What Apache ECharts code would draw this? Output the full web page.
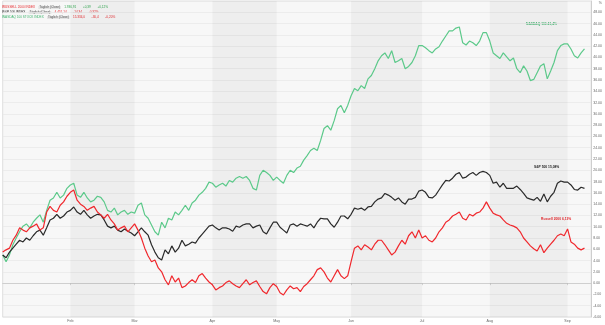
<!DOCTYPE html>
<html><head><meta charset="utf-8">
<script src="https://cdn.jsdelivr.net/npm/echarts@6/dist/echarts.min.js"></script>
<style>html,body{margin:0;padding:0;background:#fff}#c{width:605px;height:325px}</style>
</head><body><div id="c"></div>
<script>
// Trading calendar 2023 (weekdays minus US market holidays)
const startDate = '2023-01-03';
const endDate = '2023-09-13';
const holidays = ['2023-01-16','2023-02-20','2023-04-07','2023-05-29','2023-06-19','2023-07-04','2023-09-04'];
const monthNames = ['Jan','Feb','Mar','Apr','May','Jun','Jul','Aug','Sep','Oct','Nov','Dec'];
const bandStarts = ['2023-02-01','2023-04-03','2023-06-01','2023-08-01'];
const bandEnds   = ['2023-03-01','2023-05-01','2023-07-03','2023-09-01'];
const yTicks = {min:-6, max:50, interval:2};

// Nasdaq 100 (green), % performance
const nasdaq = [
5.0,3.8,5.0,6.8,8.0,9.1,10.1,10.5,9.8,10.8,11.5,12.1,10.8,12.9,14.7,15.1,16.1,15.1,15.6,16.8,
17.4,17.7,15.6,15.2,16.1,15.1,14.4,14.7,15.4,15.2,14.4,12.9,12.6,13.3,12.1,12.6,12.9,12.2,12.6,
12.4,13.8,14.2,12.1,11.5,10.3,9.1,8.5,10.8,9.8,11.5,11.2,12.6,12.1,12.9,13.8,12.9,14.2,14.7,15.6,16.1,16.8,17.9,
17.7,17.0,17.4,17.7,17.2,18.2,17.9,18.6,18.9,18.6,18.9,18.2,16.8,16.5,19.1,20.0,19.6,19.1,18.2,
18.8,18.2,17.7,19.1,20.0,19.6,20.4,20.7,21.8,22.6,23.5,23.9,23.5,25.3,27.4,27.9,27.1,28.8,30.9,31.5,30.2,31.5,
33.2,34.5,34.1,35.0,34.5,36.2,36.8,38.0,39.4,40.3,40.8,39.8,41.2,39.1,39.4,39.8,38.0,38.4,39.1,40.3,42.1,
42.1,41.7,41.2,40.8,41.5,41.9,42.9,43.8,44.7,44.7,45.2,45.4,42.6,42.2,42.9,42.6,42.1,42.9,44.4,44.4,
42.9,40.8,40.3,39.8,40.8,40.1,39.4,39.9,38.0,37.3,38.5,37.6,35.9,36.1,37.3,38.5,38.9,36.2,37.6,39.1,41.2,42.1,42.4,
42.4,41.5,40.3,39.9,40.8,41.5
];
// S&P 500 (black)
const sp500 = [
5.0,4.5,5.5,6.2,6.9,7.6,7.3,8.0,7.6,8.4,9.1,9.4,8.5,9.8,11.2,11.5,12.2,11.5,11.9,12.6,
12.9,13.5,12.6,12.2,12.9,12.1,11.5,11.9,12.2,12.1,11.2,10.1,9.8,10.1,9.4,9.1,9.6,9.2,8.9,
8.4,9.1,9.8,9.1,8.5,6.8,5.5,4.5,4.1,5.9,5.2,6.6,5.5,6.2,7.6,6.6,6.9,7.3,7.1,8.0,8.7,9.4,10.1,
10.3,9.8,9.4,9.8,9.8,9.6,9.2,10.1,9.9,10.3,10.5,10.5,9.8,10.1,10.3,9.1,8.7,9.8,10.8,
10.8,9.9,9.4,8.9,10.3,10.5,10.1,10.5,10.3,10.1,10.5,9.8,10.8,11.5,11.4,11.4,10.5,9.9,10.8,11.9,11.9,11.4,
12.2,13.3,13.1,13.3,12.9,13.5,13.6,14.4,14.9,15.1,15.9,15.6,15.2,14.7,15.1,14.4,14.0,14.9,14.9,15.2,16.3,
16.5,16.1,15.2,15.1,15.6,16.5,17.4,18.2,18.1,18.6,19.3,19.6,18.6,18.8,19.3,19.6,19.1,19.6,19.8,19.6,
19.1,17.7,17.9,17.0,17.7,16.8,16.8,16.8,17.2,16.6,15.9,15.1,14.9,14.7,15.2,14.5,15.8,14.4,15.4,16.1,17.7,18.1,17.9,
17.9,17.4,16.6,16.5,17.0,16.8
];
// Russell 2000 (red)
const russell = [
5.5,5.9,6.2,7.6,8.5,9.8,9.4,9.1,9.8,10.1,10.5,9.4,9.8,12.6,13.6,12.9,12.6,13.8,14.4,15.4,
16.1,16.5,14.7,14.0,13.6,12.9,13.3,13.6,12.6,12.1,11.5,12.2,11.2,10.5,9.4,9.8,10.1,9.1,9.8,
10.5,9.4,8.0,6.2,4.8,3.8,4.1,2.7,2.0,0.6,-0.3,1.3,0.2,0.9,-0.8,-0.5,0.1,0.6,0.1,1.3,1.7,0.9,0.2,
-0.3,-1.2,-0.8,-0.5,0.1,0.4,-0.1,-0.5,-0.8,-0.1,0.6,-0.3,0.1,0.4,-0.6,-1.5,-1.9,-0.8,-0.1,
-0.6,-1.7,-2.1,-1.2,-0.5,-1.0,-0.8,-1.5,-0.6,-0.1,0.6,1.3,2.4,2.7,2.0,0.9,0.2,1.3,2.4,1.3,0.8,1.3,
3.8,6.2,6.6,5.9,6.8,6.4,5.9,6.9,7.6,7.6,6.8,5.9,5.0,5.5,6.6,7.6,6.9,8.4,9.1,8.0,9.4,
8.0,8.4,7.6,7.3,8.0,9.1,9.8,10.8,11.2,11.9,12.2,12.6,11.5,11.2,12.2,11.9,12.4,12.6,13.3,14.4,
13.3,12.4,12.1,11.9,11.2,10.6,10.3,10.1,9.8,9.1,8.0,7.3,6.6,6.1,5.7,6.8,5.4,6.2,6.9,7.6,8.4,8.7,8.4,
9.6,7.3,6.9,6.2,5.9,6.2
];

const legendRows = [
  {name:'RUSSELL 2000 INDEX', last:'1.936,91', chg:'+0,39', pct:'+0,12%', color:'#e8262b', up:true},
  {name:'S&P 500 INDEX', last:'4.451,14', chg:'-14,34', pct:'-0,32%', color:'#222222', up:false},
  {name:'NASDAQ 100 STOCK INDEX', last:'15.334,0', chg:'-30,4', pct:'-0,20%', color:'#3fb56e', up:false}
];
const endLabels = [
  {text:'NASDAQ 100 41,4%', color:'#3fb56e', x:526, y:23},
  {text:'S&P 500 15,08%', color:'#222222', x:534, y:166},
  {text:'Russell 2000 6,13%', color:'#e8262b', x:541, y:218}
];

// build category dates
const dates = [];
(function(){
  const d = new Date(startDate + 'T12:00:00Z');
  const e = new Date(endDate + 'T12:00:00Z');
  while (d <= e) {
    const wd = d.getUTCDay();
    const s = d.toISOString().slice(0,10);
    if (wd !== 0 && wd !== 6 && holidays.indexOf(s) < 0) dates.push(s);
    d.setUTCDate(d.getUTCDate()+1);
  }
})();
const isMonthStart = (i) => i > 0 && dates[i].slice(5,7) !== dates[i-1].slice(5,7);

const chart = echarts.init(document.getElementById('c'), null, {renderer:'canvas'});
const font = 'Arial, "Liberation Sans", sans-serif';
const fs = 3.1;

const graphics = [];
legendRows.forEach((r, k) => {
  const numColor = r.up ? '#2fa84f' : '#e8262b';
  graphics.push({
    type:'text', left: 2, top: 1.5 + k*5,
    style:{
      text: '{ic|/}{n|' + r.name + '} {b| Täglich (Close) } {v|' + r.last + '}  {v|' + r.chg + '}  {v|' + r.pct + '}',
      rich:{
        ic:{fill:r.color, fontSize:fs, fontFamily:font, fontWeight:'bold'},
        n:{fill:r.color, fontSize:fs, fontFamily:font},
        b:{fill:'#555', fontSize:fs, fontFamily:font, backgroundColor:'#e3e3e3'},
        v:{fill:numColor, fontSize:fs, fontFamily:font}
      }
    }
  });
});
endLabels.forEach(l => {
  graphics.push({type:'text', left:l.x, top:l.y, style:{text:l.text, fill:l.color, fontSize:3.3, fontWeight:'bold', fontFamily:font}});
});
graphics.push({type:'text', right:3, top:0.5, style:{text:'%', fill:'#666', fontSize:3.6, fontFamily:font}});

chart.setOption({
  animation:false,
  backgroundColor:'#ffffff',
  graphic: graphics,
  grid:{left:2.7, right:8, top:1, bottom:8, show:true, backgroundColor:'#f7f7f7', borderColor:'#d6d6d6', borderWidth:0.8, containLabel:false},
  xAxis:{
    type:'category', data:dates, boundaryGap:false,
    axisLine:{show:true, lineStyle:{color:'#c8c8c8', width:0.8}},
    axisTick:{show:true, length:2, interval:(i)=>isMonthStart(i), lineStyle:{color:'#bbb', width:0.6}},
    axisLabel:{show:true, interval:(i)=>isMonthStart(i), formatter:(v)=>monthNames[parseInt(v.slice(5,7),10)-1],
      fontSize:3.6, color:'#666', margin:2, fontFamily:font},
    splitLine:{show:false}
  },
  yAxis:{
    type:'value', position:'right', min:yTicks.min, max:yTicks.max, interval:yTicks.interval,
    axisLine:{show:true, lineStyle:{color:'#c8c8c8', width:0.8}},
    axisTick:{show:false},
    axisLabel:{fontSize:3.5, color:'#666', margin:2, fontFamily:font,
      formatter:(v)=> v === yTicks.max ? '' : v.toFixed(2)},
    splitLine:{show:true, lineStyle:{color:'#e9e9e9', width:0.8}}
  },
  series:[
    {name:'bands', type:'line', data:[], silent:true,
      markArea:{silent:true, itemStyle:{color:'rgba(0,0,0,0.035)'},
        data: bandStarts.map((s,k)=>[{xAxis:s},{xAxis:bandEnds[k]}])}},
    {name:'NASDAQ 100', type:'line', data:nasdaq, showSymbol:false, lineStyle:{color:'#5cc98a', width:1.2}, z:3},
    {name:'S&P 500', type:'line', data:sp500, showSymbol:false, lineStyle:{color:'#2a2a2a', width:1.2}, z:4},
    {name:'Russell 2000', type:'line', data:russell, showSymbol:false, lineStyle:{color:'#f0282d', width:1.2}, z:5}
  ]
});
</script></body></html>
